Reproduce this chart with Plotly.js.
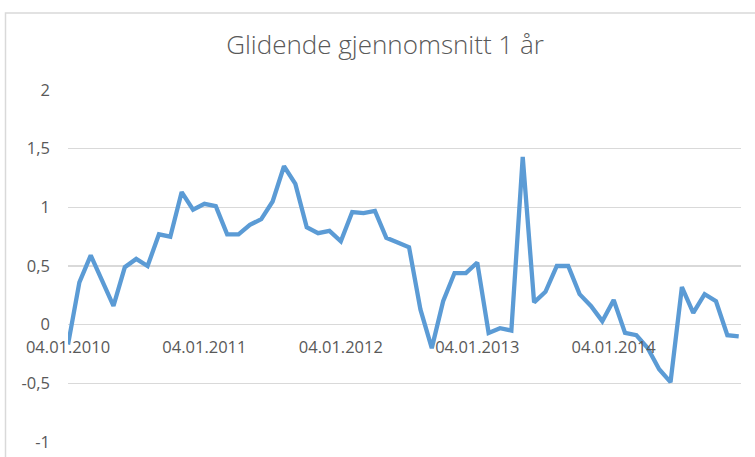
<!DOCTYPE html>
<html>
<head>
<meta charset="utf-8">
<script src="https://cdn.plot.ly/plotly-3.0.1.min.js"></script>
<style>html,body{margin:0;padding:0;background:#fff;}#chart{width:755px;height:457px;}</style>
</head>
<body>
<div id="chart"></div>
<script>
// Category dates (4th of each month, 2010-2014)
const dates = [
  "04.01.2010","04.02.2010","04.03.2010","04.04.2010","04.05.2010","04.06.2010","04.07.2010","04.08.2010","04.09.2010","04.10.2010","04.11.2010","04.12.2010",
  "04.01.2011","04.02.2011","04.03.2011","04.04.2011","04.05.2011","04.06.2011","04.07.2011","04.08.2011","04.09.2011","04.10.2011","04.11.2011","04.12.2011",
  "04.01.2012","04.02.2012","04.03.2012","04.04.2012","04.05.2012","04.06.2012","04.07.2012","04.08.2012","04.09.2012","04.10.2012","04.11.2012","04.12.2012",
  "04.01.2013","04.02.2013","04.03.2013","04.04.2013","04.05.2013","04.06.2013","04.07.2013","04.08.2013","04.09.2013","04.10.2013","04.11.2013","04.12.2013",
  "04.01.2014","04.02.2014","04.03.2014","04.04.2014","04.05.2014","04.06.2014","04.07.2014","04.08.2014","04.09.2014","04.10.2014","04.11.2014","04.12.2014"
];
// Moving average values
const values = [
  -0.17, 0.36, 0.59, 0.38, 0.16, 0.49, 0.56, 0.50, 0.77, 0.75, 1.13, 0.98,
   1.03, 1.01, 0.77, 0.77, 0.85, 0.90, 1.05, 1.35, 1.20, 0.83, 0.78, 0.80,
   0.71, 0.96, 0.95, 0.97, 0.74, 0.70, 0.66, 0.13, -0.20, 0.20, 0.44, 0.44,
   0.53, -0.07, -0.03, -0.05, 1.43, 0.19, 0.28, 0.50, 0.50, 0.26, 0.16, 0.03,
   0.21, -0.07, -0.09, -0.20, -0.38, -0.49, 0.32, 0.10, 0.26, 0.20, -0.09, -0.10
];
const xTickLabels = ["04.01.2010","04.01.2011","04.01.2012","04.01.2013","04.01.2014"];
const yTickValues = [-1, -0.5, 0, 0.5, 1, 1.5, 2];
const yTickLabels = ["-1", "-0,5", "0", "0,5", "1", "1,5", "2"];
const titleText = "Glidende gjennomsnitt 1 år";

const FONT = "Open Sans, Noto Sans, sans-serif";
const trace = {
  type: "scatter",
  mode: "lines",
  x: dates,
  y: values,
  line: {color: "#5B9BD5", width: 4.3, shape: "linear"},
  hoverinfo: "skip"
};

const layout = {
  width: 755, height: 457,
  margin: {l: 68, r: 14, t: 90, b: 15, pad: 0},
  paper_bgcolor: "#ffffff",
  plot_bgcolor: "#ffffff",
  separators: ", ",
  showlegend: false,
  title: {
    text: titleText,
    font: {family: FONT, size: 26, color: "#595959", weight: 300},
    x: 385/755, xref: "container", xanchor: "center",
    y: 1 - 45/457, yref: "container", yanchor: "middle"
  },
  xaxis: {
    type: "category",
    range: [0, 59.2],
    anchor: "free",
    position: 1/3,
    tickmode: "array",
    tickvals: xTickLabels,
    ticktext: xTickLabels,
    ticks: "",
    ticklabelstandoff: 11,
    showgrid: false,
    zeroline: false,
    showline: false,
    tickangle: 0,
    tickfont: {family: FONT, size: 16.5, color: "#595959"},
    fixedrange: true
  },
  yaxis: {
    range: [-1, 2],
    tickmode: "array",
    tickvals: yTickValues,
    ticktext: yTickLabels,
    ticks: "",
    ticklabelstandoff: 17,
    showgrid: true,
    gridcolor: "#D9D9D9",
    gridwidth: 1.2,
    zeroline: false,
    showline: false,
    tickfont: {family: FONT, size: 16.5, color: "#595959"},
    fixedrange: true
  },
  shapes: [{
    type: "rect", xref: "paper", yref: "paper",
    x0: (5.5-68)/673, x1: 1.2,
    y0: -0.3, y1: (442-13)/352,
    line: {color: "#D9D9D9", width: 1.5},
    fillcolor: "rgba(0,0,0,0)",
    layer: "below"
  }]
};

Plotly.newPlot("chart", [trace], layout, {displayModeBar: false, staticPlot: true});
</script>
</body>
</html>
